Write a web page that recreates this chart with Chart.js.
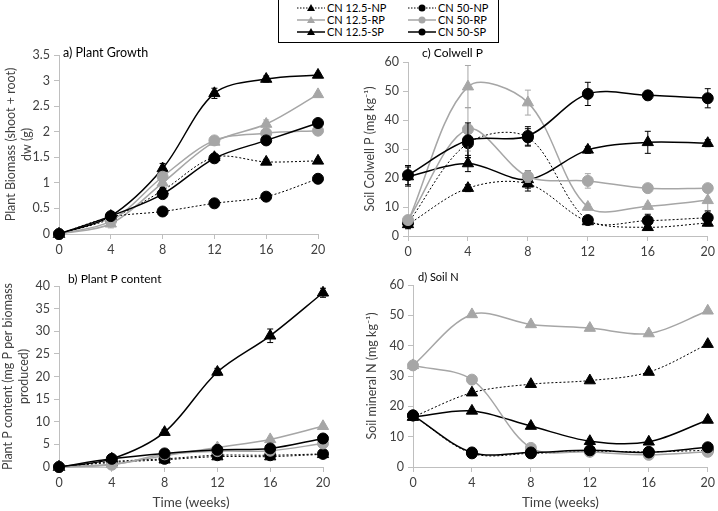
<!DOCTYPE html>
<html>
<head>
<meta charset="utf-8">
<script src="https://cdn.jsdelivr.net/npm/chart.js@4.4.1/dist/chart.umd.min.js"></script>
<style>
  body { margin: 0; background: #fff; width: 718px; height: 511px; overflow: hidden; position: relative; font-family: Lato, sans-serif; }
  canvas { position: absolute; left: 0; top: 0; }
  #legend { position: absolute; left: 278px; top: -1px; width: 221px; height: 44px; border: 1px solid #000; box-sizing: border-box; background: #fff; }
  .item { position: absolute; height: 12px; font-size: 11px; line-height: 12px; white-space: nowrap; color: #000; }
  .item svg { vertical-align: top; margin-right: 2px; }
</style>
</head>
<body>
<div id="legend"></div>
<canvas id="chartA" width="718" height="511"></canvas>
<canvas id="chartB" width="718" height="511"></canvas>
<canvas id="chartC" width="718" height="511"></canvas>
<canvas id="chartD" width="718" height="511"></canvas>
<script>
// sampling times (weeks)
const WEEKS = [0, 4, 8, 12, 16, 20];
const SERIES_LABELS = ['CN 12.5-NP', 'CN 12.5-RP', 'CN 12.5-SP', 'CN 50-NP', 'CN 50-RP', 'CN 50-SP'];

// a) plant biomass (g), one row per series in SERIES_LABELS order
const plantGrowth = [
  [0, 0.30, 0.85, 1.50, 1.41, 1.43],
  [0, 0.20, 1.00, 1.80, 2.15, 2.73],
  [0, 0.35, 1.28, 2.75, 3.03, 3.11],
  [0, 0.33, 0.44, 0.60, 0.73, 1.08],
  [0, 0.25, 1.12, 1.83, 1.97, 2.02],
  [0, 0.35, 0.78, 1.48, 1.83, 2.17]
];
const plantGrowthErr = [
  [0, 0.02, 0.05, 0.05, 0.05, 0.03],
  [0, 0.08, 0.05, 0.05, 0.08, 0.03],
  [0, 0.03, 0.10, 0.10, 0.06, 0.03],
  [0, 0.02, 0.03, 0.03, 0.03, 0.03],
  [0, 0.03, 0.05, 0.03, 0.03, 0.03],
  [0, 0.03, 0.05, 0.05, 0.03, 0.03]
];

// b) plant P content
const plantP = [
  [0, 1.0, 1.6, 2.3, 2.3, 2.8],
  [0, 0.6, 2.5, 4.3, 6.1, 9.0],
  [0, 1.8, 7.7, 21.0, 29.0, 38.5],
  [0, 1.2, 1.8, 2.6, 2.6, 2.9],
  [0, 0.5, 2.8, 3.5, 3.6, 5.2],
  [0, 1.8, 3.0, 3.8, 4.1, 6.3]
];
const plantPErr = [
  [0, 0.2, 0.2, 0.2, 0.2, 0.2],
  [0, 0.2, 0.3, 0.3, 0.4, 0.4],
  [0, 0.3, 0.6, 0.8, 1.5, 1.0],
  [0, 0.2, 0.2, 0.2, 0.2, 0.2],
  [0, 0.2, 0.3, 0.3, 0.3, 0.3],
  [0, 0.2, 0.3, 0.3, 0.3, 0.4]
];

// c) soil Colwell P (mg/kg)
const colwellP = [
  [4.0, 16.5, 18.0, 5.0, 3.0, 4.5],
  [5.0, 51.5, 46.0, 10.0, 10.3, 12.3],
  [20.5, 25.0, 19.5, 29.7, 32.3, 32.0],
  [4.5, 32.0, 34.0, 5.5, 5.3, 6.3],
  [5.5, 36.8, 20.5, 19.0, 16.5, 16.5],
  [21.0, 33.0, 34.5, 49.0, 48.5, 47.5]
];
const colwellPErr = [
  [1.5, 1.2, 2.5, 0.8, 1.0, 1.0],
  [1.5, 7.3, 4.3, 1.0, 0.8, 3.5],
  [3.3, 2.8, 3.0, 1.2, 3.8, 1.2],
  [1.0, 5.0, 3.0, 1.0, 2.2, 2.3],
  [1.5, 7.5, 2.0, 2.5, 0.8, 0.8],
  [3.3, 6.0, 3.2, 4.0, 1.5, 3.3]
];

// d) soil mineral N (mg/kg)
const soilN = [
  [16.5, 24.5, 27.3, 28.5, 31.3, 40.5],
  [33.5, 50.3, 47.0, 45.8, 44.0, 51.5],
  [16.5, 18.5, 13.5, 8.5, 8.3, 15.5],
  [17.0, 4.5, 4.5, 5.2, 5.0, 5.5],
  [33.5, 28.8, 6.3, 5.0, 4.0, 5.0],
  [17.0, 4.8, 4.8, 5.5, 4.8, 6.5]
];

// series styles
const COLORS = ['#000000', '#a6a6a6', '#000000', '#000000', '#a6a6a6', '#000000'];
const MARKERS = ['triangle', 'triangle', 'triangle', 'circle', 'circle', 'circle'];
const DOTTED = [true, false, false, true, false, false];

const AXIS_GREY = '#bfbfbf';
const TEXT = '#404040';

// error bars, drawn under each dataset's markers
const errorBars = {
  id: 'errorBars',
  beforeDatasetDraw(chart, args) {
    const ds = chart.data.datasets[args.index];
    if (!ds.errors) return;
    const yScale = chart.scales.y;
    const ctx = chart.ctx;
    ctx.save();
    ctx.strokeStyle = ds.borderColor;
    ctx.lineWidth = 1;
    args.meta.data.forEach((pt, j) => {
      const e = ds.errors[j];
      if (!e) return;
      const v = ds.data[j].y;
      const top = yScale.getPixelForValue(v + e);
      const bot = yScale.getPixelForValue(Math.max(v - e, 0));
      ctx.beginPath();
      ctx.moveTo(pt.x, top); ctx.lineTo(pt.x, bot);
      ctx.moveTo(pt.x - 3, top); ctx.lineTo(pt.x + 3, top);
      ctx.moveTo(pt.x - 3, bot); ctx.lineTo(pt.x + 3, bot);
      ctx.stroke();
    });
    ctx.restore();
  }
};

// panel title in the top-left corner of the plot
const panelTitle = {
  id: 'panelTitle',
  afterDraw(chart, args, opts) {
    const ctx = chart.ctx;
    ctx.save();
    ctx.font = opts.size + 'px Lato, sans-serif';
    ctx.fillStyle = '#000';
    ctx.textBaseline = 'middle';
    ctx.textAlign = 'left';
    ctx.fillText(opts.text, chart.chartArea.left + opts.dx, chart.chartArea.top + opts.dy);
    ctx.restore();
  }
};

function makePanel(id, values, errors, p) {
  const datasets = SERIES_LABELS.map((label, i) => ({
    label,
    data: WEEKS.map((w, j) => ({ x: w, y: values[i][j] })),
    errors: errors ? errors[i] : null,
    borderColor: COLORS[i],
    backgroundColor: COLORS[i],
    borderWidth: DOTTED[i] ? 1 : 1.5,
    borderDash: DOTTED[i] ? [2, 2] : [],
    pointStyle: MARKERS[i],
    pointRadius: MARKERS[i] === 'triangle' ? 6.5 : 5.5,
    pointBorderWidth: 1,
    pointBorderColor: COLORS[i],
    pointBackgroundColor: COLORS[i],
    tension: 0.33,
    clip: false,
    order: SERIES_LABELS.length - i
  }));

  return new Chart(document.getElementById(id), {
    type: 'line',
    data: { datasets },
    plugins: [errorBars, panelTitle],
    options: {
      responsive: false,
      animation: false,
      events: [],
      layout: { autoPadding: false, padding: p.padding },
      plugins: {
        legend: { display: false },
        tooltip: { enabled: false },
        panelTitle: p.title
      },
      scales: {
        x: {
          type: 'linear',
          min: 0, max: 20,
          afterFit(s) { s.height = p.xHeight; },
          grid: { drawOnChartArea: false, drawTicks: true, tickLength: 5, color: AXIS_GREY },
          border: { color: AXIS_GREY },
          ticks: { stepSize: 4, padding: 3, color: TEXT, font: { family: 'Lato', size: 12.5 } },
          title: p.xTitle ? { display: true, text: p.xTitle, color: TEXT, font: { family: 'Lato', size: 13.5 }, padding: 0 } : { display: false }
        },
        y: {
          min: 0, max: p.yMax,
          afterFit(s) { s.width = p.yWidth; },
          grid: { drawOnChartArea: false, drawTicks: true, tickLength: 5, color: AXIS_GREY },
          border: { color: AXIS_GREY },
          ticks: {
            stepSize: p.yStep, padding: 4, color: TEXT, font: { family: 'Lato', size: 12.5 },
            callback: v => String(v)
          },
          title: { display: true, text: p.yTitle, color: TEXT, font: { family: 'Lato', size: 12.5, lineHeight: 1.3 }, padding: { top: p.yTitlePad, bottom: 0 } }
        }
      }
    }
  });
}

makePanel('chartA', plantGrowth, plantGrowthErr, {
  padding: { left: 0, top: 55, right: 400, bottom: 247 },
  xHeight: 30, yWidth: 59, yMax: 3.5, yStep: 0.5, yTitlePad: 3,
  yTitle: ['Plant Biomass (shoot + root)', 'dw (g)'],
  title: { text: 'a) Plant Growth', dx: 4, dy: -2, size: 12.5 }
});

makePanel('chartB', plantP, plantPErr, {
  padding: { left: 0, top: 286, right: 395, bottom: 0 },
  xHeight: 44, yWidth: 59, yMax: 40, yStep: 5, yTitlePad: 0,
  yTitle: ['Plant P content (mg P per biomass', 'produced)'],
  xTitle: 'Time (weeks)',
  title: { text: 'b) Plant P content', dx: 9, dy: -7, size: 12 }
});

makePanel('chartC', colwellP, colwellPErr, {
  padding: { left: 358, top: 62, right: 7, bottom: 245 },
  xHeight: 30, yWidth: 50, yMax: 60, yStep: 10, yTitlePad: 4,
  yTitle: 'Soil Colwell P (mg kg\u207B\u00B9)',
  title: { text: 'c) Colwell P', dx: 14, dy: -9, size: 12 }
});

makePanel('chartD', soilN, null, {
  padding: { left: 360, top: 285, right: 10, bottom: 0 },
  xHeight: 44, yWidth: 53, yMax: 60, yStep: 10, yTitlePad: 4,
  yTitle: 'Soil mineral N (mg kg\u207B\u00B9)',
  xTitle: 'Time (weeks)',
  title: { text: 'd) Soil N', dx: 5, dy: -8, size: 11 }
});

// legend box, two columns of three
const legend = document.getElementById('legend');
SERIES_LABELS.forEach((label, i) => {
  const col = Math.floor(i / 3), row = i % 3;
  const item = document.createElement('div');
  item.className = 'item';
  item.style.left = (col ? 129 : 18) + 'px';
  item.style.top = (2 + row * 12) + 'px';
  const dash = DOTTED[i] ? ' stroke-dasharray="1.5,1.5"' : '';
  const mark = MARKERS[i] === 'triangle'
    ? `<polygon points="14,2 18,9 10,9" fill="${COLORS[i]}"/>`
    : `<circle cx="14" cy="6" r="3.5" fill="${COLORS[i]}"/>`;
  item.innerHTML = `<svg width="28" height="12"><line x1="0" y1="6" x2="28" y2="6" stroke="${COLORS[i]}" stroke-width="${DOTTED[i] ? 1 : 1.5}"${dash}/>${mark}</svg>${label}`;
  legend.appendChild(item);
});
</script>
</body>
</html>
